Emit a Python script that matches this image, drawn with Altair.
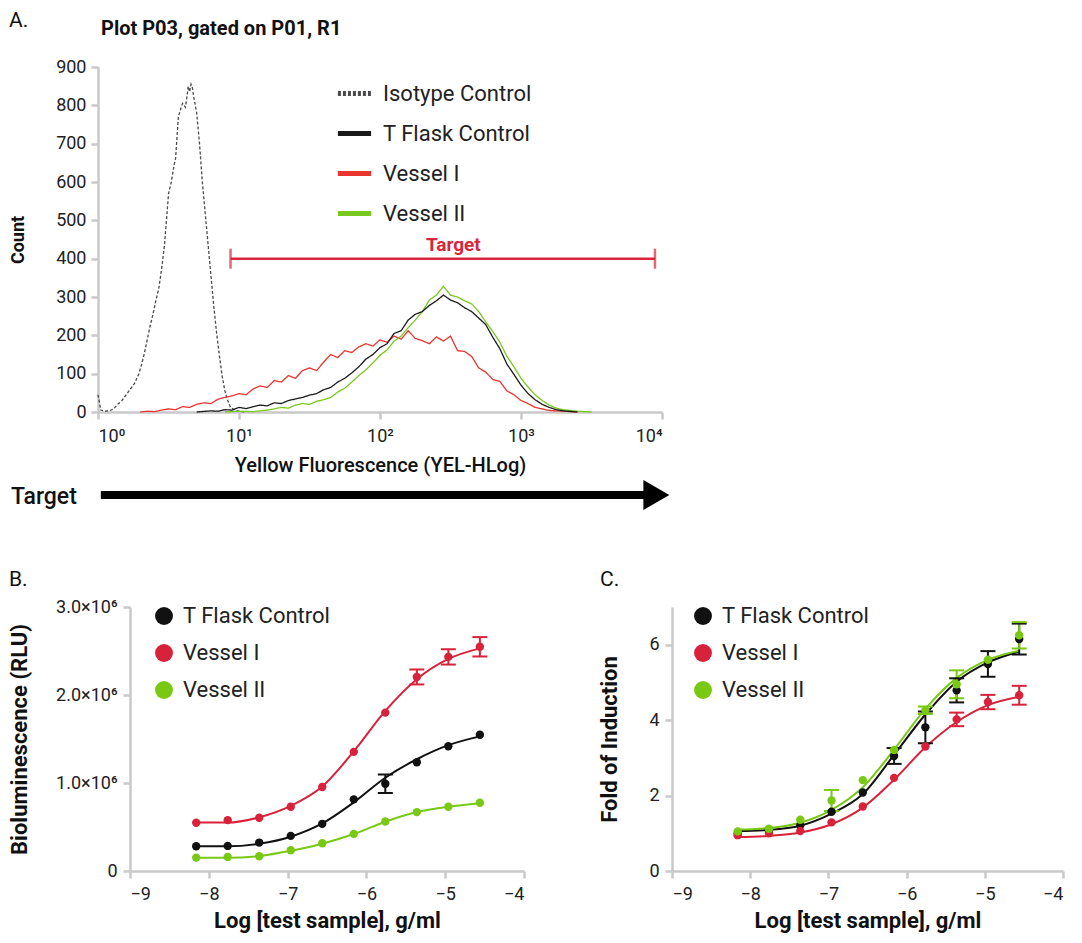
import altair as alt
import pandas as pd

# ---------------- Panel A: histograms (x = log10 fluorescence, y = count) ----------------
iso_hist = [(0.00,45),(0.02,5),(0.05,2),(0.08,3),(0.11,8),(0.14,20),(0.17,30),(0.20,45),(0.23,60),
            (0.26,75),(0.29,100),(0.31,125),(0.33,155),(0.35,190),(0.37,225),(0.39,255),(0.41,290),
            (0.43,320),(0.45,370),(0.47,430),(0.49,520),(0.50,570),(0.52,600),(0.54,645),(0.55,660),
            (0.57,770),(0.59,795),(0.60,805),(0.62,795),(0.63,820),(0.64,850),(0.65,835),(0.66,855),
            (0.67,845),(0.68,820),(0.70,780),(0.72,700),(0.74,600),(0.76,520),(0.78,440),(0.80,360),
            (0.82,280),(0.84,210),(0.86,150),(0.88,95),(0.90,55),(0.92,30),(0.94,12),(0.97,5),
            (1.00,2),(1.05,0)]
vessel1_hist = [(0.30,0),(0.35,2),(0.40,1),(0.45,5),(0.50,8),(0.55,6),(0.60,14),(0.65,12),(0.70,20),
                (0.75,24),(0.80,22),(0.85,33),(0.90,38),(0.95,42),(1.00,48),(1.05,45),(1.10,60),
                (1.15,68),(1.20,64),(1.25,82),(1.30,78),(1.35,95),(1.40,88),(1.45,108),(1.50,115),
                (1.55,108),(1.60,130),(1.65,150),(1.70,142),(1.75,160),(1.80,155),(1.85,170),
                (1.90,178),(1.95,172),(2.00,188),(2.05,182),(2.10,198),(2.15,190),(2.20,212),
                (2.25,192),(2.30,186),(2.35,178),(2.40,196),(2.45,185),(2.50,198),(2.55,160),
                (2.60,158),(2.65,145),(2.70,115),(2.75,104),(2.80,85),(2.85,80),(2.90,55),(2.95,45),
                (3.00,30),(3.05,22),(3.10,12),(3.15,8),(3.20,4),(3.30,2),(3.40,0)]
vessel2_hist = [(0.90,0),(1.00,2),(1.10,1),(1.20,5),(1.25,8),(1.30,12),(1.35,10),(1.40,18),(1.45,22),
                (1.50,20),(1.55,28),(1.60,32),(1.65,38),(1.70,52),(1.75,62),(1.80,78),(1.85,95),
                (1.90,110),(1.95,128),(2.00,148),(2.05,162),(2.10,185),(2.15,198),(2.20,220),
                (2.25,240),(2.30,262),(2.35,292),(2.40,305),(2.45,328),(2.50,305),(2.55,300),
                (2.60,290),(2.65,282),(2.70,262),(2.75,235),(2.80,210),(2.85,182),(2.90,145),
                (2.95,118),(3.00,88),(3.05,65),(3.10,45),(3.15,30),(3.20,18),(3.25,10),(3.30,6),
                (3.40,2),(3.50,0)]
tflask_hist = [(0.70,0),(0.80,3),(0.85,2),(0.90,6),(0.95,5),(1.00,12),(1.05,9),(1.10,14),(1.15,18),
               (1.20,16),(1.25,24),(1.30,22),(1.35,30),(1.40,34),(1.45,38),(1.50,44),(1.55,48),
               (1.60,58),(1.65,64),(1.70,78),(1.75,88),(1.80,102),(1.85,118),(1.90,138),(1.95,150),
               (2.00,168),(2.05,178),(2.10,205),(2.15,212),(2.20,240),(2.25,255),(2.30,262),
               (2.35,278),(2.40,290),(2.45,305),(2.50,292),(2.55,285),(2.60,272),(2.65,262),
               (2.70,245),(2.75,228),(2.80,195),(2.85,165),(2.90,125),(2.95,98),(3.00,70),
               (3.05,48),(3.10,32),(3.15,20),(3.20,12),(3.25,6),(3.30,3),(3.40,0)]

series_a = ["Isotype Control", "T Flask Control", "Vessel I", "Vessel II"]
colors_a = ["#4a4a4a", "#1a1a1a", "#e8352f", "#79c81e"]
dash_a = [[3, 2], [1, 0], [1, 0], [1, 0]]

target_gate = {"start": 0.94, "end": 3.95, "level": 400, "mid": 2.52}
arrow_span = {"start": 0.02, "end": 3.88, "tip": 3.96}

# ---------------- Panels B and C: dose response ----------------
log_conc = [-8.16, -7.76, -7.36, -6.96, -6.56, -6.16, -5.76, -5.36, -4.96, -4.56]
series_bc = ["T Flask Control", "Vessel I", "Vessel II"]
colors_bc = ["#111111", "#d8213a", "#78c814"]

# B: bioluminescence, in units of 10^6 RLU
b_mean = {
    "T Flask Control": [0.281, 0.285, 0.323, 0.399, 0.536, 0.814, 0.992, 1.236, 1.418, 1.548],
    "Vessel I":        [0.548, 0.578, 0.605, 0.730, 0.954, 1.354, 1.800, 2.205, 2.433, 2.548],
    "Vessel II":       [0.152, 0.160, 0.167, 0.236, 0.316, 0.422, 0.563, 0.669, 0.730, 0.776],
}
b_err = {
    "T Flask Control": [0, 0, 0, 0, 0, 0, 0.105, 0, 0, 0],
    "Vessel I":        [0, 0, 0, 0, 0, 0, 0, 0.085, 0.087, 0.11],
    "Vessel II":       [0, 0, 0, 0, 0, 0, 0, 0, 0, 0],
}
b_fit = {
    "T Flask Control": [0.28, 0.28, 0.31, 0.39, 0.54, 0.78, 1.06, 1.27, 1.43, 1.53],
    "Vessel I":        [0.55, 0.55, 0.61, 0.74, 0.96, 1.36, 1.82, 2.18, 2.41, 2.53],
    "Vessel II":       [0.15, 0.15, 0.17, 0.23, 0.31, 0.42, 0.56, 0.67, 0.73, 0.77],
}

# C: fold of induction
c_mean = {
    "T Flask Control": [0.99, 1.10, 1.21, 1.57, 2.08, 3.05, 3.81, 4.79, 5.49, 6.15],
    "Vessel I":        [0.95, 1.00, 1.06, 1.29, 1.71, 2.47, 3.30, 4.02, 4.48, 4.66],
    "Vessel II":       [1.05, 1.12, 1.36, 1.87, 2.41, 3.21, 4.26, 4.95, 5.60, 6.25],
}
c_err = {
    "T Flask Control": [0, 0, 0, 0, 0, 0.21, 0.42, 0.32, 0.34, 0.41],
    "Vessel I":        [0, 0, 0, 0, 0, 0, 0, 0.18, 0.19, 0.25],
    "Vessel II":       [0, 0, 0, 0.28, 0, 0, 0.10, 0.37, 0, 0.35],
}
c_fit = {
    "T Flask Control": [1.06, 1.09, 1.20, 1.52, 2.04, 3.08, 4.15, 5.02, 5.53, 5.82],
    "Vessel I":        [0.90, 0.93, 1.02, 1.24, 1.68, 2.42, 3.28, 3.95, 4.40, 4.62],
    "Vessel II":       [1.10, 1.14, 1.28, 1.62, 2.22, 3.22, 4.30, 5.12, 5.60, 5.84],
}

FONT = "Roboto"
AX = dict(domainColor="#c9c9c9", domainWidth=2.5, tickColor="#c9c9c9", tickWidth=2.5, tickSize=7,
          labelColor="#222222", labelFont=FONT, labelFontSize=18, titleColor="#111111",
          titleFont=FONT, grid=False, labelOverlap=False)


def label(txt, x, y, size=21, weight="normal", align="left", color="#111111"):
    return alt.Chart(pd.DataFrame({"t": [txt]})).mark_text(
        align=align, baseline="middle", fontSize=size, fontWeight=weight, font=FONT,
        color=color).encode(text="t:N", x=alt.value(x), y=alt.value(y))


# ---------- build panel A ----------
# Panel A's group origin is shared with panel B (concat aligns origins); the plot is
# shifted 32px left of that origin through the x range and the y-axis offset.
SHIFT = 32
A_W = 564

rows = []
for name, pts in [("Isotype Control", iso_hist), ("Vessel I", vessel1_hist),
                  ("Vessel II", vessel2_hist), ("T Flask Control", tflask_hist)]:
    for lx, c in pts:
        rows.append({"series": name, "logfl": lx, "count": c})
hist = pd.DataFrame(rows)

X_TITLE_A = "Yellow Fluorescence (YEL-HLog)"
xA_axis = alt.Axis(values=[0, 1, 2, 3, 4],
                   labelExpr="'10' + ['⁰','¹','²','³','⁴'][datum.value]",
                   title=X_TITLE_A, titleFontSize=20, titleFontWeight=500, titlePadding=10,
                   labelPadding=8, titleX=(A_W / 2 - SHIFT), **AX)
yA_axis = alt.Axis(values=list(range(0, 1000, 100)), title="Count", titleFontSize=18,
                   titleFontWeight="bold", titlePadding=28, labelPadding=5, offset=SHIFT, **AX)
xA_scale = alt.Scale(domain=[0, 4], nice=False, zero=False, range=[-SHIFT, A_W - SHIFT])
yA_scale = alt.Scale(domain=[0, 900], nice=False)


def XA(field):
    return alt.X(field, scale=xA_scale, axis=xA_axis)


def YA(field):
    return alt.Y(field, scale=yA_scale, axis=yA_axis)


legA = alt.Legend(title=None, orient="none", legendX=237 - SHIFT, legendY=7, symbolType="stroke",
                  symbolSize=1100, symbolStrokeWidth=5, labelFont=FONT, labelFontSize=22,
                  labelColor="#222222", rowPadding=9, labelOffset=9, padding=0)

hist_lines = alt.Chart(hist).mark_line(strokeWidth=1.3).encode(
    x=XA("logfl:Q"),
    y=YA("count:Q"),
    color=alt.Color("series:N", scale=alt.Scale(domain=series_a, range=colors_a), legend=legA),
    strokeDash=alt.StrokeDash("series:N", scale=alt.Scale(domain=series_a, range=dash_a), legend=legA),
)

gate_df = pd.DataFrame([target_gate])
gate_ends = pd.DataFrame({"pos": [target_gate["start"], target_gate["end"]],
                          "level": [target_gate["level"]] * 2})
RED = "#d7263d"
gate_rule = alt.Chart(gate_df).mark_rule(color=RED, strokeWidth=2.5).encode(
    x=XA("start:Q"), x2="end:Q", y=YA("level:Q"))
gate_caps = alt.Chart(gate_ends).mark_tick(color=RED, orient="vertical", size=20, thickness=2.5).encode(
    x=XA("pos:Q"), y=YA("level:Q"))
gate_text = alt.Chart(pd.DataFrame({"mid": [target_gate["mid"]], "level": [target_gate["level"]],
                                    "t": ["Target"]})).mark_text(
    color=RED, fontSize=19, fontWeight="bold", font=FONT, dy=-14).encode(
    x=XA("mid:Q"), y=YA("level:Q"), text="t:N")

arrow_df = pd.DataFrame([arrow_span])
arrow_line = alt.Chart(arrow_df).mark_rule(color="#000000", strokeWidth=8).encode(
    x=XA("start:Q"), x2="end:Q", y=alt.value(428))
arrow_head = alt.Chart(arrow_df).mark_point(shape="triangle-right", filled=True, color="#000000",
                                            size=900, opacity=1).encode(
    x=XA("tip:Q"), y=alt.value(428))

chartA = alt.layer(
    hist_lines, gate_rule, gate_caps, gate_text, arrow_line, arrow_head,
    label("Target", -87 - SHIFT, 430, size=23, weight=500),
    label("A.", -89 - SHIFT, -46, size=21),
    label("Plot P03, gated on P01, R1", 3 - SHIFT, -38, size=20, weight="bold"),
).properties(width=A_W - SHIFT, height=345)


# ---------- panels B and C ----------
def dose_frame(mean, err, fit, scale=1.0):
    r = []
    for s in series_bc:
        for i, lc in enumerate(log_conc):
            m = mean[s][i] * scale
            e = err[s][i] * scale
            r.append({"series": s, "conc": lc, "val": m, "err": e, "lo": m - e, "hi": m + e,
                      "fit": fit[s][i] * scale})
    return pd.DataFrame(r)


def dose_chart(df, y_domain, y_values, y_title, label_expr, panel, width, title_pad, leg_x):
    X_T = "Log [test sample], g/ml"
    xs = alt.Scale(domain=[-9, -4], nice=False, zero=False)
    ys = alt.Scale(domain=y_domain, nice=False)
    x_axis = alt.Axis(values=[-9, -8, -7, -6, -5, -4], title=X_T, titleFontSize=22,
                      titleFontWeight="bold", titlePadding=7, labelPadding=7, **AX)
    y_kw = dict(values=y_values, title=y_title, titleFontSize=22, titleFontWeight="bold",
                titlePadding=title_pad, labelPadding=6, **AX)
    if label_expr:
        y_kw["labelExpr"] = label_expr
    y_axis = alt.Axis(**y_kw)
    X = alt.X("conc:Q", scale=xs, axis=x_axis)

    def Y(f):
        return alt.Y(f, scale=ys, axis=y_axis)

    cscale = alt.Scale(domain=series_bc, range=colors_bc)
    stroke = alt.Stroke("series:N", scale=cscale, legend=None)
    fill = alt.Fill("series:N", scale=cscale, legend=None)
    base = alt.Chart(df)
    fit_line = base.mark_line(interpolate="monotone", strokeWidth=2).encode(
        x=X, y=Y("fit:Q"), stroke=stroke)
    eb = base.transform_filter("datum.err > 0")
    err_rule = eb.mark_rule(strokeWidth=2).encode(x=X, y=Y("lo:Q"), y2="hi:Q", stroke=stroke)
    cap_lo = eb.mark_tick(orient="horizontal", size=15, thickness=2, opacity=1).encode(
        x=X, y=Y("lo:Q"), fill=fill)
    cap_hi = eb.mark_tick(orient="horizontal", size=15, thickness=2, opacity=1).encode(
        x=X, y=Y("hi:Q"), fill=fill)
    pts = base.mark_circle(size=70, opacity=1).encode(x=X, y=Y("val:Q"), fill=fill)

    # legend drawn as marks: one row per series
    legend_layers = []
    for i, (s, col) in enumerate(zip(series_bc, colors_bc)):
        yy = 9 + 37 * i
        legend_layers.append(
            alt.Chart(pd.DataFrame({"t": [s]})).mark_circle(size=320, opacity=1, color=col).encode(
                x=alt.value(leg_x), y=alt.value(yy)))
        legend_layers.append(label(s, leg_x + 19, yy, size=22, color="#222222"))

    return alt.layer(fit_line, err_rule, cap_lo, cap_hi, pts, *legend_layers,
                     label(panel[0], panel[1], -27, size=21)).properties(width=width, height=264)


dfB = dose_frame(b_mean, b_err, b_fit, scale=1e6)
dfC = dose_frame(c_mean, c_err, c_fit)

chartB = dose_chart(dfB, [0, 3e6], [0, 1e6, 2e6, 3e6], "Bioluminescence (RLU)",
                    "datum.value == 0 ? '0' : format(datum.value / 1000000, '.1f') + '×10⁶'",
                    ("B.", -121), 394, 24, 34)
chartC = dose_chart(dfC, [0, 7], [0, 2, 4, 6], "Fold of Induction", None, ("C.", -72), 391, 27, 31)

bottom = alt.hconcat(chartB, chartC, spacing=72).resolve_scale(
    stroke="independent", fill="independent")

chart = alt.vconcat(chartA, bottom, spacing=59).resolve_scale(
    color="independent", strokeDash="independent", stroke="independent", fill="independent").resolve_legend(
    color="independent", strokeDash="independent").properties(
    padding={"left": 0, "top": 2, "right": 0, "bottom": 4}
).configure(font=FONT).configure_view(stroke=None)

chart.save("out.html", embed_options={"renderer": "svg", "actions": False})
